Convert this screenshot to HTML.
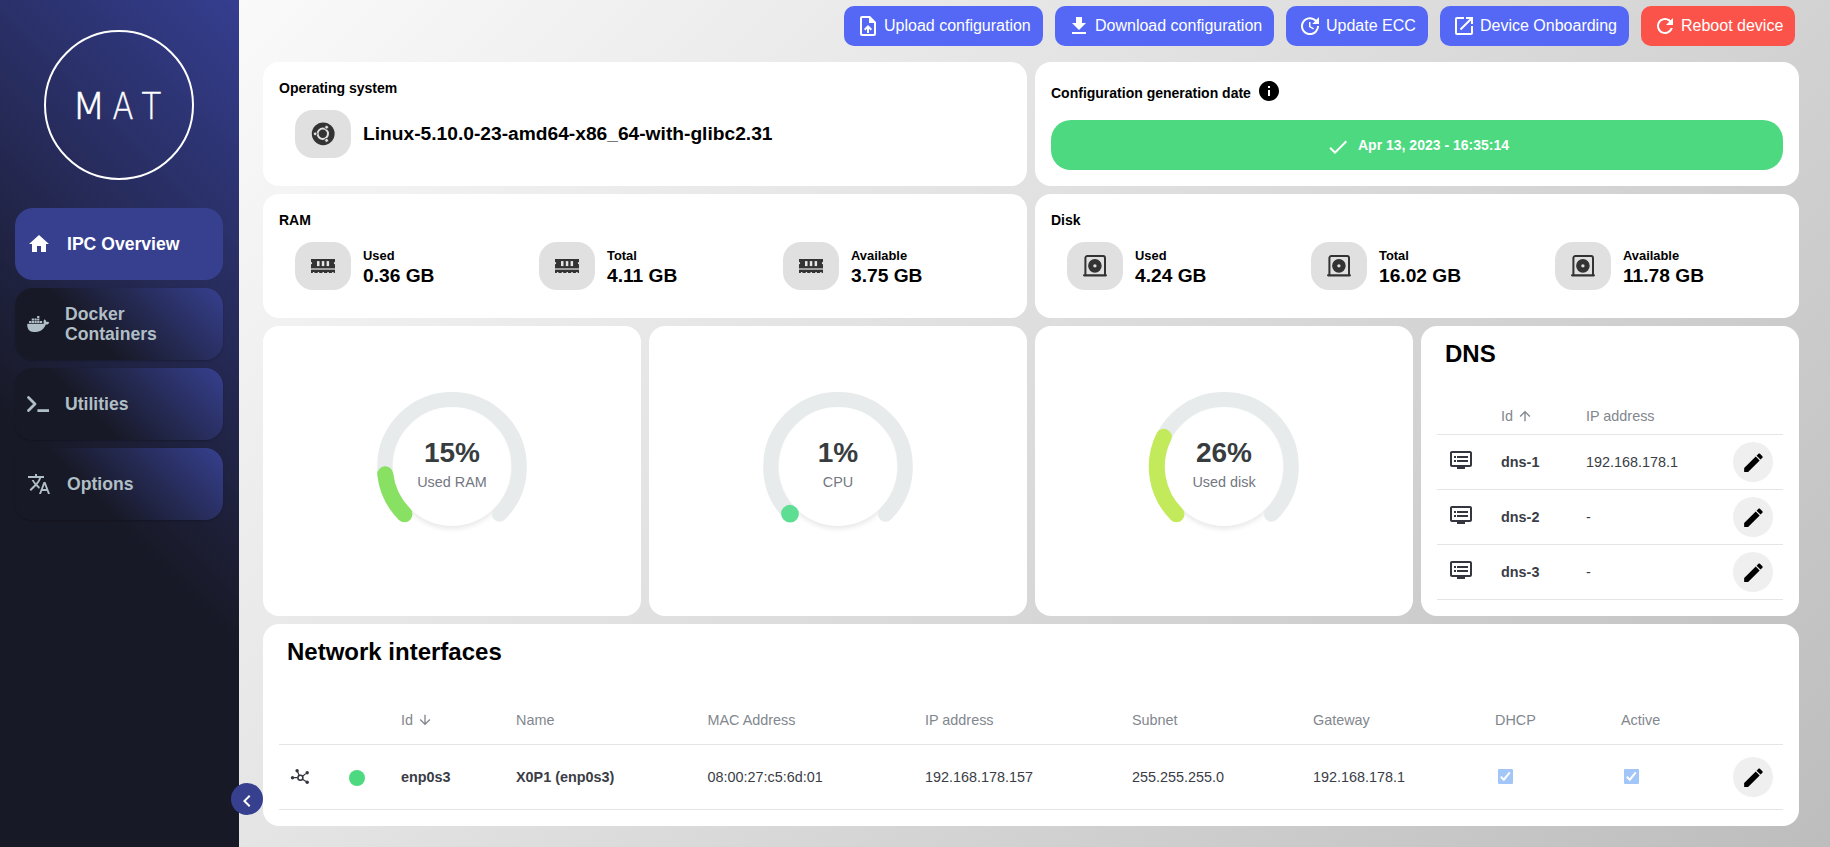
<!DOCTYPE html>
<html lang="en">
<head>
<meta charset="utf-8">
<title>IPC Overview</title>
<style>
*{box-sizing:border-box;margin:0;padding:0}
html,body{width:1830px;height:847px;overflow:hidden}
body{font-family:"Liberation Sans",Arial,sans-serif;color:#000;position:relative;background:#fafafa}
#main{position:absolute;left:239px;top:0;width:1591px;height:847px;background:linear-gradient(135deg,#fafafa,#bdbdbd)}
.abs{position:absolute}
svg{display:block}
/* sidebar */
#side{position:absolute;left:0;top:0;width:239px;height:847px;
  background:linear-gradient(45deg,#181926 40%,#353e90 100%);}
.logo{position:absolute;left:44px;top:30px;width:150px;height:150px;border:2px solid #fff;border-radius:50%}
.logot{position:absolute;left:0;top:84px;width:239px;text-align:center;color:#fff;font-family:"DejaVu Sans Light","DejaVu Sans",sans-serif;font-weight:200;font-size:37px;line-height:42px;letter-spacing:17px;transform:scaleX(.72);transform-origin:119px 50%;white-space:nowrap}
.nav{position:absolute;left:15px;width:208px;height:72px;border-radius:18px;color:#b0bec5;font-weight:bold;font-size:17.600px;line-height:20px;
  background:linear-gradient(45deg,#181926 37%,#36408f 100%);box-shadow:0 1px 2px rgba(0,0,0,.22)}
.nav.act{background:#36408f;color:#fff;box-shadow:none}
.nav svg{position:absolute;fill:currentColor}
.nav span{position:absolute;white-space:nowrap}
#tog{position:absolute;left:231px;top:783px;width:32px;height:32px;border-radius:50%;background:#36408f}
/* buttons */
.btn{position:absolute;top:6px;height:40px;border-radius:10px;background:#5468f5;color:#fff;font-size:16px;line-height:40px;white-space:nowrap}
.btn.red{background:#fb534a}
.btn svg{position:absolute;left:12px;top:8px;width:24px;height:24px;fill:#fff}
.btn span{position:absolute;left:40px;top:0}
/* cards */
.card{position:absolute;background:#fff;border-radius:16px}
.h14{position:absolute;font-weight:bold;font-size:14px;line-height:16px;white-space:nowrap}
.ib{position:absolute;width:56px;height:48px;border-radius:18px;background:#e0e0e0}
.ib svg{position:absolute}
.lab{position:absolute;font-weight:bold;font-size:12.900px;line-height:16px;white-space:nowrap}
.val{position:absolute;font-weight:bold;font-size:19.200px;line-height:22px;white-space:nowrap}
.h24{position:absolute;font-weight:bold;font-size:24px;line-height:28px;white-space:nowrap}
.th{position:absolute;font-size:14.400px;line-height:16px;color:#82878e;white-space:nowrap}
.td{position:absolute;font-size:14.400px;line-height:16px;color:#3a3d46;white-space:nowrap}
.td.b{font-weight:bold}
.hl{position:absolute;height:1px;background:#e3e5e7}
.eb{position:absolute;width:40px;height:40px;border-radius:50%;background:#efefef}
.eb svg{position:absolute;left:7.600px;top:7.700px;width:25.200px;height:25.200px;fill:#000}
.cb{position:absolute;width:15px;height:15px;border-radius:1px;background:#a3c6f9}
.cb svg{position:absolute;left:0;top:0}
.gt{position:absolute;width:200px;text-align:center;white-space:nowrap}
.gv{font-weight:bold;font-size:28px;line-height:30px;color:#373d3f}
.gl{font-size:14.400px;line-height:16px;color:#73777f}
</style>
</head>
<body>
<div id="main"></div>

<!-- SIDEBAR -->
<div id="side">
  <div class="logo"></div>
  <svg class="abs" style="left:0;top:60px" width="239" height="90" viewBox="0 0 239 90" fill="#fff" stroke="#fff" stroke-width=".45" font-family="'DejaVu Sans Light','DejaVu Sans',sans-serif" font-weight="200" font-size="37"><text transform="translate(71.800,58.600) scale(1.07,1.02)">M</text><text transform="translate(112.500,58.600) scale(.83,1.02)">A</text><text transform="translate(141.500,58.600) scale(.87,1.02)">T</text></svg>

  <div class="nav act" style="top:208px">
    <svg style="left:12px;top:24px" width="24" height="24" viewBox="0 0 24 24"><path d="M10 20v-6h4v6h5v-8h3L12 3 2 12h3v8z"/></svg>
    <span style="left:52px;top:26px">IPC Overview</span>
  </div>
  <div class="nav" style="top:288px">
    <svg style="left:9.800px;top:23px" width="26.400" height="26.400" viewBox="0 0 24 24"><path d="M21.81 10.25C21.75 10.21 21.25 9.82 20.17 9.82C19.89 9.82 19.61 9.85 19.33 9.9C19.12 8.5 17.95 7.79 17.9 7.76L17.61 7.59L17.43 7.86C17.19 8.22 17 8.63 16.92 9.05C16.72 9.85 16.84 10.61 17.25 11.26C16.76 11.54 15.96 11.61 15.79 11.61H2.62C2.28 11.61 2 11.89 2 12.24C2 13.39 2.18 14.54 2.58 15.62C3.03 16.81 3.71 17.69 4.58 18.23C5.56 18.83 7.17 19.17 9 19.17C9.79 19.17 10.61 19.1 11.42 18.95C12.54 18.75 13.62 18.36 14.61 17.79C15.43 17.32 16.16 16.72 16.78 16C17.83 14.83 18.45 13.5 18.9 12.35H19.09C20.23 12.35 20.94 11.89 21.33 11.5C21.59 11.26 21.78 10.97 21.92 10.63L22 10.39L21.81 10.25M3.85 10.97H5.6C5.68 10.97 5.76 10.9 5.76 10.81V9.23C5.76 9.15 5.69 9.07 5.6 9.07H3.85C3.76 9.07 3.69 9.14 3.69 9.23V10.81C3.7 10.9 3.76 10.97 3.85 10.97M6.28 10.97H8.03C8.11 10.97 8.19 10.9 8.19 10.81V9.23C8.19 9.15 8.12 9.07 8.03 9.07H6.28C6.19 9.07 6.12 9.14 6.12 9.23V10.81C6.13 10.9 6.19 10.97 6.28 10.97M8.75 10.97H10.5C10.59 10.97 10.66 10.9 10.66 10.81V9.23C10.66 9.15 10.6 9.07 10.5 9.07H8.75C8.67 9.07 8.6 9.14 8.6 9.23V10.81C8.6 10.9 8.66 10.97 8.75 10.97M11.19 10.97H12.95C13.04 10.97 13.11 10.9 13.11 10.81V9.23C13.11 9.15 13.04 9.07 12.95 9.07H11.19C11.11 9.07 11.04 9.14 11.04 9.23V10.81C11.04 10.9 11.11 10.97 11.19 10.97M6.28 8.73H8.03C8.11 8.73 8.19 8.65 8.19 8.56V7C8.19 6.91 8.12 6.84 8.03 6.84H6.28C6.19 6.84 6.12 6.9 6.12 7V8.56C6.13 8.65 6.19 8.73 6.28 8.73M8.75 8.73H10.5C10.59 8.73 10.66 8.65 10.66 8.56V7C10.66 6.91 10.6 6.84 10.5 6.84H8.75C8.67 6.84 8.6 6.9 8.6 7V8.56C8.6 8.65 8.66 8.73 8.75 8.73M11.19 8.73H12.95C13.04 8.73 13.11 8.65 13.11 8.56V7C13.11 6.91 13.04 6.84 12.95 6.84H11.19C11.11 6.84 11.04 6.9 11.04 7V8.56C11.04 8.65 11.11 8.73 11.19 8.73M11.19 6.47H12.95C13.04 6.47 13.11 6.4 13.11 6.31V4.73C13.11 4.64 13.04 4.57 12.95 4.57H11.19C11.11 4.57 11.04 4.64 11.04 4.73V6.31C11.04 6.39 11.11 6.47 11.19 6.47M13.65 10.97H15.4C15.49 10.97 15.56 10.9 15.56 10.81V9.23C15.56 9.15 15.49 9.07 15.4 9.07H13.65C13.57 9.07 13.5 9.14 13.5 9.23V10.81C13.5 10.9 13.57 10.97 13.65 10.97"/></svg>
    <span style="left:50px;top:16px">Docker<br>Containers</span>
  </div>
  <div class="nav" style="top:368px">
    <svg style="left:10px;top:24px;fill:none;stroke:currentColor;stroke-width:2.800;stroke-linecap:round;stroke-linejoin:round" width="26" height="24" viewBox="0 0 26 24"><path d="M3.500 5.600l6.500 6.400-6.500 6.400"/><path d="M12.400 18.600h11.600" stroke-linecap="butt"/></svg>
    <span style="left:50px;top:26px">Utilities</span>
  </div>
  <div class="nav" style="top:448px">
    <svg style="left:12px;top:24px" width="24" height="24" viewBox="0 0 24 24"><path d="M12.870 15.070l-2.540-2.510.03-.03c1.740-1.940 2.980-4.170 3.710-6.530H17V4h-7V2H8v2H1v1.990h11.170C11.500 7.920 10.440 9.750 9 11.350 8.070 10.320 7.300 9.190 6.690 8h-2c.73 1.630 1.730 3.170 2.980 4.560l-5.090 5.020L4 19l5-5 3.110 3.110.76-2.040zM18.500 10h-2L12 22h2l1.120-3h4.750L21 22h2l-4.500-12zm-2.620 7l1.620-4.330L19.120 17h-3.240z"/></svg>
    <span style="left:52px;top:26px">Options</span>
  </div>
</div>
<div id="tog"><svg width="24" height="24" viewBox="0 0 24 24" style="position:absolute;left:4.300px;top:6px;fill:#fff"><path d="M15.410 7.410L14 6l-6 6 6 6 1.410-1.410L10.830 12z"/></svg></div>

<!-- TOP BUTTONS -->
<div class="btn" style="left:844px;width:199px"><svg viewBox="0 0 24 24"><path d="M14 2H6c-1.100 0-1.990.9-1.990 2L4 20c0 1.100.89 2 1.990 2H18c1.100 0 2-.9 2-2V8l-6-6zm4 18H6V4h7v5h5v11zM8 15.010l1.410 1.410L11 14.840V19h2v-4.160l1.590 1.590L16 15.010 12.010 11 8 15.010z"/></svg><span>Upload configuration</span></div>
<div class="btn" style="left:1055px;width:219px"><svg viewBox="0 0 24 24"><path d="M19 9h-4V3H9v6H5l7 7 7-7zM5 18v2h14v-2H5z"/></svg><span>Download configuration</span></div>
<div class="btn" style="left:1286px;width:142px"><svg viewBox="0 0 24 24"><path d="M21 10.120h-6.780l2.740-2.820c-2.730-2.700-7.150-2.800-9.880-.1-2.730 2.710-2.730 7.080 0 9.790s7.150 2.710 9.880 0C18.320 15.650 19 14.080 19 12.100h2c0 1.980-.88 4.550-2.640 6.290-3.510 3.480-9.210 3.480-12.720 0-3.500-3.470-3.530-9.110-.02-12.580s9.140-3.470 12.650 0L21 3v7.120zM12.500 8v4.250l3.500 2.080-.72 1.210L11 13V8h1.500z"/></svg><span>Update ECC</span></div>
<div class="btn" style="left:1440px;width:189px"><svg viewBox="0 0 24 24"><path d="M19 19H5V5h7V3H5c-1.110 0-2 .9-2 2v14c0 1.100.89 2 2 2h14c1.100 0 2-.9 2-2v-7h-2v7zM14 3v2h3.590l-9.830 9.830 1.410 1.410L19 6.410V10h2V3h-7z"/></svg><span>Device Onboarding</span></div>
<div class="btn red" style="left:1641px;width:154px"><svg viewBox="0 0 24 24"><path d="M17.650 6.350C16.200 4.900 14.210 4 12 4c-4.420 0-7.990 3.580-7.990 8s3.570 8 7.990 8c3.730 0 6.840-2.550 7.730-6h-2.080c-.82 2.330-3.040 4-5.650 4-3.310 0-6-2.690-6-6s2.690-6 6-6c1.660 0 3.140.69 4.220 1.780L13 11h7V4l-2.350 2.350z"/></svg><span>Reboot device</span></div>

<!-- OS CARD -->
<div class="card" style="left:263px;top:62px;width:764px;height:124px">
  <div class="h14" style="left:16px;top:18px">Operating system</div>
  <div class="ib" style="left:32px;top:48px">
    <svg style="left:16px;top:12px;overflow:visible" width="24" height="24" viewBox="0 0 24 24"><circle cx="12.200" cy="11.800" r="11.400" fill="#333"/><circle cx="11.8" cy="11.8" r="5.200" fill="none" stroke="#e0e0e0" stroke-width="2"/><circle cx="4.20" cy="11.80" r="1.900" fill="#e0e0e0" stroke="#333" stroke-width=".9"/><circle cx="15.60" cy="5.22" r="1.900" fill="#e0e0e0" stroke="#333" stroke-width=".9"/><circle cx="15.60" cy="18.38" r="1.900" fill="#e0e0e0" stroke="#333" stroke-width=".9"/></svg>
  </div>
  <div class="val" style="left:100px;top:60px;font-size:19.200px;line-height:24px">Linux-5.10.0-23-amd64-x86_64-with-glibc2.31</div>
</div>

<!-- CONFIG CARD -->
<div class="card" style="left:1035px;top:62px;width:764px;height:124px">
  <div class="h14" style="left:16px;top:23px">Configuration generation date</div>
  <svg class="abs" style="left:222px;top:17px" width="24" height="24" viewBox="0 0 24 24"><path d="M12 2C6.480 2 2 6.480 2 12s4.480 10 10 10 10-4.480 10-10S17.520 2 12 2zm1 15h-2v-6h2v6zm0-8h-2V7h2v2z"/></svg>
  <div class="abs" style="left:16px;top:58px;width:732px;height:50px;border-radius:20px;background:#4cd980">
    <svg class="abs" style="left:274.500px;top:14.500px;fill:#fff" width="24" height="24" viewBox="0 0 24 24"><path d="M9 16.170L4.830 12l-1.420 1.410L9 19 21 7l-1.410-1.410z"/></svg>
    <div class="abs" style="left:307px;top:17px;color:#fff;font-weight:bold;font-size:14px;line-height:16px;white-space:nowrap">Apr 13, 2023 - 16:35:14</div>
  </div>
</div>

<!-- RAM CARD -->
<div class="card" id="ram" style="left:263px;top:194px;width:764px;height:124px">
  <div class="h14" style="left:16px;top:18px">RAM</div>
  <div class="ib" style="left:32px;top:48px"><svg style="left:16px;top:17px" width="24" height="14.200" viewBox="0 0 24 14.200"><path fill="#333" d="M0 0h24v2.900a1.200 1.200 0 0 0 0 2.400V9.200H0V5.300a1.200 1.200 0 0 0 0-2.400z"/><path fill="#333" d="M0 10.700h24v3.500h-1.400v-1.100h-1.500v1.100h-3.300v-1.100h-1.500v1.100h-3.300v-1.100h-1.500v1.100H8.200v-1.100H6.700v1.100H3.400v-1.100H1.900v1.100H0z"/><path fill="#999" d="M0 9.200h24v1.500H0z"/><rect x="6" y="2.100" width="2.500" height="5" fill="#e6e6e6"/><rect x="10.800" y="2.100" width="2.500" height="5" fill="#e6e6e6"/><rect x="15.600" y="2.100" width="2.500" height="5" fill="#e6e6e6"/></svg></div>
  <div class="lab" style="left:100px;top:54px">Used</div>
  <div class="val" style="left:100px;top:71px">0.36 GB</div>
  <div class="ib" style="left:276px;top:48px"><svg style="left:16px;top:17px" width="24" height="14.200" viewBox="0 0 24 14.200"><path fill="#333" d="M0 0h24v2.900a1.200 1.200 0 0 0 0 2.400V9.200H0V5.300a1.200 1.200 0 0 0 0-2.400z"/><path fill="#333" d="M0 10.700h24v3.500h-1.400v-1.100h-1.500v1.100h-3.300v-1.100h-1.500v1.100h-3.300v-1.100h-1.500v1.100H8.200v-1.100H6.700v1.100H3.400v-1.100H1.900v1.100H0z"/><path fill="#999" d="M0 9.200h24v1.500H0z"/><rect x="6" y="2.100" width="2.500" height="5" fill="#e6e6e6"/><rect x="10.800" y="2.100" width="2.500" height="5" fill="#e6e6e6"/><rect x="15.600" y="2.100" width="2.500" height="5" fill="#e6e6e6"/></svg></div>
  <div class="lab" style="left:344px;top:54px">Total</div>
  <div class="val" style="left:344px;top:71px">4.11 GB</div>
  <div class="ib" style="left:520px;top:48px"><svg style="left:16px;top:17px" width="24" height="14.200" viewBox="0 0 24 14.200"><path fill="#333" d="M0 0h24v2.900a1.200 1.200 0 0 0 0 2.400V9.200H0V5.300a1.200 1.200 0 0 0 0-2.400z"/><path fill="#333" d="M0 10.700h24v3.500h-1.400v-1.100h-1.500v1.100h-3.300v-1.100h-1.500v1.100h-3.300v-1.100h-1.500v1.100H8.200v-1.100H6.700v1.100H3.400v-1.100H1.900v1.100H0z"/><path fill="#999" d="M0 9.200h24v1.500H0z"/><rect x="6" y="2.100" width="2.500" height="5" fill="#e6e6e6"/><rect x="10.800" y="2.100" width="2.500" height="5" fill="#e6e6e6"/><rect x="15.600" y="2.100" width="2.500" height="5" fill="#e6e6e6"/></svg></div>
  <div class="lab" style="left:588px;top:54px">Available</div>
  <div class="val" style="left:588px;top:71px">3.75 GB</div>
</div>
<!-- DISK CARD -->
<div class="card" id="disk" style="left:1035px;top:194px;width:764px;height:124px">
  <div class="h14" style="left:16px;top:18px">Disk</div>
  <div class="ib" style="left:32px;top:48px"><svg style="left:16px;top:12px" width="24" height="24" viewBox="0 0 24 24" fill="none" stroke="#333"><path stroke-width="2" d="M2.400 21.300V4a1.900 1.900 0 0 1 1.900-1.900h15.800a1.900 1.900 0 0 1 1.900 1.900v17.300"/><path stroke-width="2.300" stroke-linecap="round" d="M1.150 21.300h21.700"/><circle cx="11.900" cy="11.850" r="4.250" stroke-width="5.100"/></svg></div>
  <div class="lab" style="left:100px;top:54px">Used</div>
  <div class="val" style="left:100px;top:71px">4.24 GB</div>
  <div class="ib" style="left:276px;top:48px"><svg style="left:16px;top:12px" width="24" height="24" viewBox="0 0 24 24" fill="none" stroke="#333"><path stroke-width="2" d="M2.400 21.300V4a1.900 1.900 0 0 1 1.900-1.900h15.800a1.900 1.900 0 0 1 1.900 1.900v17.300"/><path stroke-width="2.300" stroke-linecap="round" d="M1.150 21.300h21.700"/><circle cx="11.900" cy="11.850" r="4.250" stroke-width="5.100"/></svg></div>
  <div class="lab" style="left:344px;top:54px">Total</div>
  <div class="val" style="left:344px;top:71px">16.02 GB</div>
  <div class="ib" style="left:520px;top:48px"><svg style="left:16px;top:12px" width="24" height="24" viewBox="0 0 24 24" fill="none" stroke="#333"><path stroke-width="2" d="M2.400 21.300V4a1.900 1.900 0 0 1 1.900-1.900h15.800a1.900 1.900 0 0 1 1.900 1.900v17.300"/><path stroke-width="2.300" stroke-linecap="round" d="M1.150 21.300h21.700"/><circle cx="11.900" cy="11.850" r="4.250" stroke-width="5.100"/></svg></div>
  <div class="lab" style="left:588px;top:54px">Available</div>
  <div class="val" style="left:588px;top:71px">11.78 GB</div>
</div>

<!-- GAUGES -->
<div class="card" style="left:263px;top:326px;width:378px;height:290px"><div class="abs" style="left:130px;top:81.7px;width:118px;height:118px;border-radius:50%;background:#fff;box-shadow:0 3px 5px rgba(0,0,0,.09)"></div><svg class="abs" style="left:0;top:0" width="378" height="290" viewBox="0 0 378 290" fill="none" stroke-linecap="round"><path d="M141.48 188.22 A67.2 67.2 0 1 1 236.52 188.22" stroke="#e7ebec" stroke-width="15.200"/><path d="M141.48 188.22 A67.2 67.2 0 0 1 122.22 148.18" stroke="#89e163" stroke-width="16"/></svg><div class="gt gv" style="left:89px;top:112px">15%</div><div class="gt gl" style="left:89px;top:148px">Used RAM</div></div>
<div class="card" style="left:649px;top:326px;width:378px;height:290px"><div class="abs" style="left:130px;top:81.7px;width:118px;height:118px;border-radius:50%;background:#fff;box-shadow:0 3px 5px rgba(0,0,0,.09)"></div><svg class="abs" style="left:0;top:0" width="378" height="290" viewBox="0 0 378 290" fill="none" stroke-linecap="round"><path d="M141.48 188.22 A67.2 67.2 0 1 1 236.52 188.22" stroke="#e7ebec" stroke-width="15.200"/><path d="M141.15 187.88 A67.2 67.2 0 0 1 140.82 187.55" stroke="#5dde93" stroke-width="17.400"/></svg><div class="gt gv" style="left:89px;top:112px">1%</div><div class="gt gl" style="left:89px;top:148px">CPU</div></div>
<div class="card" style="left:1035px;top:326px;width:378px;height:290px"><div class="abs" style="left:130px;top:81.7px;width:118px;height:118px;border-radius:50%;background:#fff;box-shadow:0 3px 5px rgba(0,0,0,.09)"></div><svg class="abs" style="left:0;top:0" width="378" height="290" viewBox="0 0 378 290" fill="none" stroke-linecap="round"><path d="M141.48 188.22 A67.2 67.2 0 1 1 236.52 188.22" stroke="#e7ebec" stroke-width="15.200"/><path d="M141.48 188.22 A67.2 67.2 0 0 1 128.82 110.80" stroke="#c3ea5b" stroke-width="16"/></svg><div class="gt gv" style="left:89px;top:112px">26%</div><div class="gt gl" style="left:89px;top:148px">Used disk</div></div>

<!-- DNS -->
<div class="card" id="dns" style="left:1421px;top:326px;width:378px;height:290px">
  <div class="h24" style="left:24px;top:14px">DNS</div>
  <div class="th" style="left:80px;top:82px">Id</div><svg class="abs" style="left:96px;top:82px;fill:#82878e" width="16" height="16" viewBox="0 0 24 24"><path d="M4 12l1.410 1.410L11 7.830V20h2V7.830l5.580 5.590L20 12l-8-8-8 8z"/></svg>
  <div class="th" style="left:165px;top:82px">IP address</div>
  <div class="hl" style="left:16px;top:108px;width:346px"></div>
  <svg class="abs" style="left:28px;top:122px;fill:#33363e" width="24" height="24" viewBox="0 0 24 24"><path d="M21 3H3c-1.100 0-2 .9-2 2v12c0 1.100.9 2 2 2h5v2h8v-2h5c1.100 0 1.990-.9 1.990-2L23 5c0-1.100-.9-2-2-2zm0 14H3V5h18v12zm-2-9H8v2h11V8zm0 4H8v2h11v-2zM7 8H5v2h2V8zm0 4H5v2h2v-2z"/></svg><div class="td b" style="left:80px;top:128px">dns-1</div><div class="td" style="left:165px;top:128px">192.168.178.1</div><div class="eb" style="left:312px;top:116px"><svg viewBox="0 0 24 24"><path d="M3 17.250V21h3.750L17.810 9.940l-3.750-3.750L3 17.250zM20.410 7.340c.39-.39.39-1.020 0-1.410l-2.340-2.340c-.39-.39-1.020-.39-1.410 0l-1.830 1.830 3.750 3.750 1.830-1.830z"/></svg></div>
  <div class="hl" style="left:16px;top:163px;width:346px"></div>
  <svg class="abs" style="left:28px;top:177px;fill:#33363e" width="24" height="24" viewBox="0 0 24 24"><path d="M21 3H3c-1.100 0-2 .9-2 2v12c0 1.100.9 2 2 2h5v2h8v-2h5c1.100 0 1.990-.9 1.990-2L23 5c0-1.100-.9-2-2-2zm0 14H3V5h18v12zm-2-9H8v2h11V8zm0 4H8v2h11v-2zM7 8H5v2h2V8zm0 4H5v2h2v-2z"/></svg><div class="td b" style="left:80px;top:183px">dns-2</div><div class="td" style="left:165px;top:183px">-</div><div class="eb" style="left:312px;top:171px"><svg viewBox="0 0 24 24"><path d="M3 17.250V21h3.750L17.810 9.940l-3.750-3.750L3 17.250zM20.410 7.340c.39-.39.39-1.020 0-1.410l-2.340-2.340c-.39-.39-1.020-.39-1.410 0l-1.830 1.830 3.750 3.750 1.830-1.830z"/></svg></div>
  <div class="hl" style="left:16px;top:218px;width:346px"></div>
  <svg class="abs" style="left:28px;top:232px;fill:#33363e" width="24" height="24" viewBox="0 0 24 24"><path d="M21 3H3c-1.100 0-2 .9-2 2v12c0 1.100.9 2 2 2h5v2h8v-2h5c1.100 0 1.990-.9 1.990-2L23 5c0-1.100-.9-2-2-2zm0 14H3V5h18v12zm-2-9H8v2h11V8zm0 4H8v2h11v-2zM7 8H5v2h2V8zm0 4H5v2h2v-2z"/></svg><div class="td b" style="left:80px;top:238px">dns-3</div><div class="td" style="left:165px;top:238px">-</div><div class="eb" style="left:312px;top:226px"><svg viewBox="0 0 24 24"><path d="M3 17.250V21h3.750L17.810 9.940l-3.750-3.750L3 17.250zM20.410 7.340c.39-.39.39-1.020 0-1.410l-2.340-2.340c-.39-.39-1.020-.39-1.410 0l-1.830 1.830 3.750 3.750 1.830-1.830z"/></svg></div>
  <div class="hl" style="left:16px;top:273px;width:346px"></div>
</div>

<!-- NETWORK -->
<div class="card" id="net" style="left:263px;top:624px;width:1536px;height:202px">
  <div class="h24" style="left:24px;top:14px">Network interfaces</div>
  <div class="th" style="left:138px;top:88px">Id</div>
  <div class="th" style="left:253px;top:88px">Name</div>
  <div class="th" style="left:444.500px;top:88px">MAC Address</div>
  <div class="th" style="left:662px;top:88px">IP address</div>
  <div class="th" style="left:869px;top:88px">Subnet</div>
  <div class="th" style="left:1050px;top:88px">Gateway</div>
  <div class="th" style="left:1232px;top:88px">DHCP</div>
  <div class="th" style="left:1358px;top:88px">Active</div><svg class="abs" style="left:154px;top:88px;fill:#82878e" width="16" height="16" viewBox="0 0 24 24"><path d="M20 12l-1.410-1.410L13 16.170V4h-2v12.170l-5.580-5.590L4 12l8 8 8-8z"/></svg>
  <div class="hl" style="left:16px;top:120px;width:1504px"></div>
  <div class="hl" style="left:16px;top:185px;width:1504px"></div>
  <svg class="abs" style="left:27px;top:143px" width="20" height="20" viewBox="0 0 20 20" fill="#33363e" stroke="#33363e"><circle cx="10.400" cy="10.700" r="2.500" fill="none" stroke-width="1.500"/><circle cx="7.100" cy="3.700" r="1.700" stroke="none"/><circle cx="17.200" cy="5.700" r="1.700" stroke="none"/><circle cx="2.500" cy="10.700" r="1.700" stroke="none"/><circle cx="17.200" cy="15.200" r="1.700" stroke="none"/><path d="M7.600 4.800l1.700 3.600M15.800 6.600l-3 2.400M4 10.700h3.700M12.500 12.300l3.500 2.200" stroke-width="1.200" fill="none"/></svg><div class="abs" style="left:86px;top:146px;width:16px;height:16px;border-radius:50%;background:#4cd980"></div>
  <div class="td b" style="left:138px;top:145px">enp0s3</div>
  <div class="td b" style="left:253px;top:145px">X0P1 (enp0s3)</div>
  <div class="td" style="left:444.500px;top:145px">08:00:27:c5:6d:01</div>
  <div class="td" style="left:662px;top:145px">192.168.178.157</div>
  <div class="td" style="left:869px;top:145px">255.255.255.0</div>
  <div class="td" style="left:1050px;top:145px">192.168.178.1</div>
  <div class="cb" style="left:1235px;top:145px"><svg width="15" height="15" viewBox="0 0 15 15"><path d="M2.800 7.800l3 2.900 6-7.300" fill="none" stroke="#fff" stroke-width="2"/></svg></div><div class="cb" style="left:1361px;top:145px"><svg width="15" height="15" viewBox="0 0 15 15"><path d="M2.800 7.800l3 2.900 6-7.300" fill="none" stroke="#fff" stroke-width="2"/></svg></div>
  <div class="eb" style="left:1470px;top:133px"><svg viewBox="0 0 24 24"><path d="M3 17.250V21h3.750L17.810 9.940l-3.750-3.750L3 17.250zM20.410 7.340c.39-.39.39-1.020 0-1.410l-2.340-2.340c-.39-.39-1.020-.39-1.410 0l-1.830 1.830 3.750 3.750 1.830-1.830z"/></svg></div>
</div>

</body>
</html>
